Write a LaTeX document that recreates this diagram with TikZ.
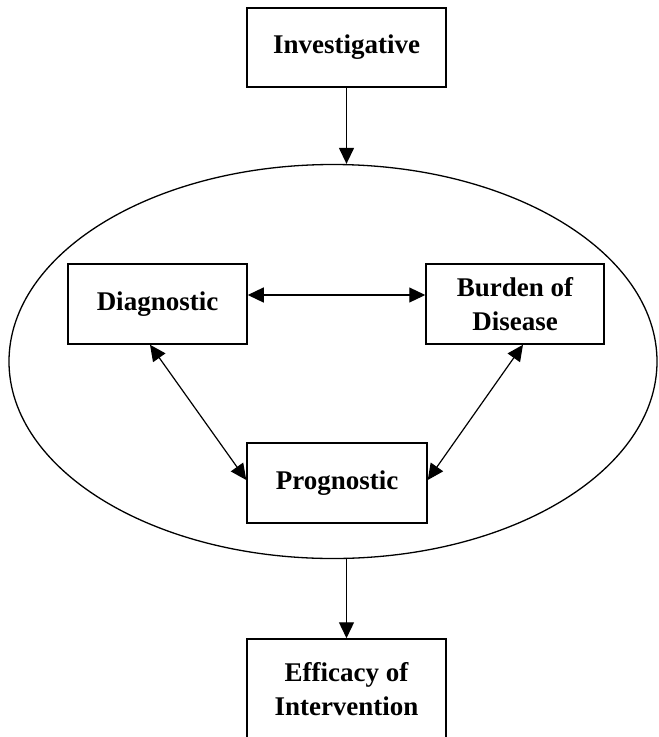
\documentclass[tikz,border=0pt]{standalone}
\usepackage{fontspec}
\setmainfont{Liberation Serif}
\usetikzlibrary{shapes.geometric,arrows.meta,calc}
\begin{document}
\begin{tikzpicture}[x=1pt,y=-1pt,
  boxnode/.style={draw, line width=1.5pt, inner sep=0pt, align=center,
    font=\bfseries\fontsize{27}{34}\selectfont},
  arr/.style={line width=1.3pt, -{Triangle[length=16pt,width=15pt]}},
  darr/.style={line width=1.2pt, {Triangle[length=16pt,width=15pt]}-{Triangle[length=16pt,width=15pt]}}]
\clip (0,0) rectangle (659,737);
\fill[white] (0,0) rectangle (659,737);
\node[ellipse, draw, line width=1.3pt, inner sep=0pt, minimum width=648pt, minimum height=394pt] (ell) at (333,361.5) {};
\node[boxnode, minimum width=199pt, minimum height=79pt] (inv) at (346.5,47.5) {Investigative};
\node[boxnode, minimum width=179pt, minimum height=80pt] (diag) at (157.5,304) {Diagnostic};
\node[boxnode, minimum width=178pt, minimum height=80pt] (bur) at (515,304) {Burden of\\Disease};
\node[boxnode, minimum width=180pt, minimum height=80pt] (prog) at (337,483) {Prognostic};
\node[boxnode, minimum width=199pt, minimum height=100pt] (eff) at (346.5,689) {Efficacy of\\Intervention};
\draw[arr] (inv.south) -- (inv.south |- ell.north);
\draw[arr] (eff.north |- ell.south) -- (eff.north);
\draw[darr] ([yshift=9pt]diag.east) -- ([yshift=9pt]bur.west);
\draw[darr] ([xshift=-7.5pt]diag.south) -- ([yshift=3pt]prog.west);
\draw[darr] ([xshift=8pt]bur.south) -- ([yshift=3pt]prog.east);
\end{tikzpicture}
\end{document}
